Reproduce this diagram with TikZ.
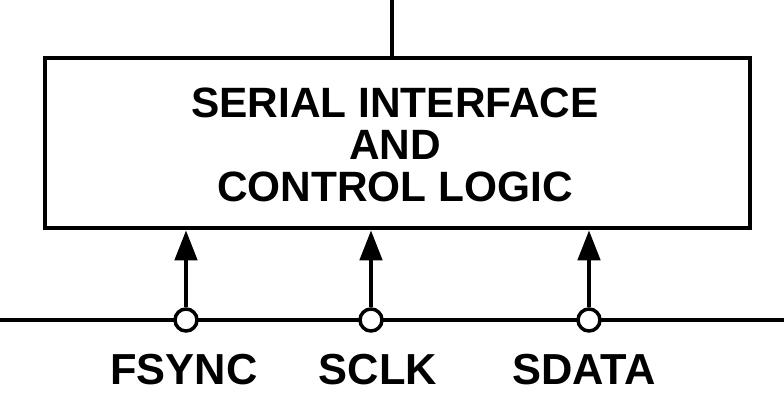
\documentclass[tikz,border=0pt]{standalone}
\usepackage{fontspec}
\setmainfont{Liberation Sans}
\usetikzlibrary{arrows.meta}
\begin{document}
\begin{tikzpicture}[x=1pt,y=-1pt,
  wire/.style={line width=4.5pt},
  pin/.style={circle,draw,line width=3.5pt,fill=white,minimum size=22pt,inner sep=0pt},
  lbl/.style={font=\fontsize{42.4}{42}\selectfont\bfseries,align=center},
  plbl/.style={font=\fontsize{43.4}{42}\selectfont\bfseries},
  arr/.style={line width=4.5pt,-{Triangle[length=30pt,width=22pt]}}]
\useasboundingbox (0,0) rectangle (784,418);
\node[draw,line width=4.5pt,minimum width=705pt,minimum height=170pt,inner sep=0pt] (box) at (397.5,143) {};
\node[lbl] (t) at (395,145) {SERIAL INTERFACE\\AND\\CONTROL LOGIC};
\coordinate (top) at (392,0);
\draw[wire] (top) -- (box.north -| top);
\coordinate (bl) at (0,320); \coordinate (br) at (784,320);
\draw[wire] (bl) -- (br);
\node[pin] (p1) at (186,320) {};
\node[pin] (p2) at (371,320) {};
\node[pin] (p3) at (589,320) {};
\foreach \p in {p1,p2,p3} \draw[arr] (\p.north) -- (\p |- box.south);
\node[plbl] (l1) at (184,370) {FSYNC};
\node[plbl] (l2) at (378,370) {SCLK};
\node[plbl] (l3) at (584,370) {SDATA};
\end{tikzpicture}
\end{document}
